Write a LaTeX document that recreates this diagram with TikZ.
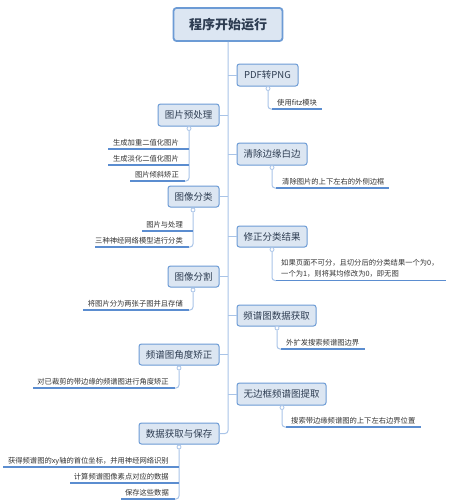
\documentclass[tikz,border=0pt]{standalone}
\usepackage{fontspec}
\setmainfont{Noto Sans CJK SC}
\definecolor{boxfill}{HTML}{DCE6F2}
\definecolor{boxdraw}{HTML}{6C9BD5}
\definecolor{linec}{HTML}{A9C4E8}
\definecolor{ulc}{HTML}{5B8DD0}
\definecolor{txt}{HTML}{2E3D52}
\definecolor{ctxt}{HTML}{333333}
\tikzset{
  topic/.style={draw=boxdraw, fill=boxfill, rounded corners=2.5pt, line width=1pt,
    font=\fontsize{9.5}{11}\selectfont, text=txt, inner sep=0pt, minimum height=22pt},
  roottopic/.style={topic, line width=1.8pt, font=\fontsize{13}{15}\selectfont\bfseries,
    minimum height=33pt, rounded corners=3pt},
  conn/.style={draw=linec, line width=1pt, rounded corners=3pt},
  ul/.style={draw=ulc, line width=1.3pt},
  dot/.style={circle, draw=linec, fill=white, line width=0.8pt, inner sep=0pt, minimum size=4pt},
  leaf/.style={font=\fontsize{7.3}{9}\selectfont, text=ctxt, inner sep=0pt},
  leafR/.style={leaf, anchor=base west},
  leafL/.style={leaf, anchor=base east}
}
\begin{document}
\begin{tikzpicture}[x=1pt,y=-1pt]
\fill[white] (0,0) rectangle (448,504);
\useasboundingbox (0,0) rectangle (448,504);

% root
\node[roottopic, minimum width=109pt] (root) at (228,24.5) {程序开始运行};
\coordinate (tend) at (228,433.5);

% right topics
\node[topic, minimum width=61pt] (pdf) at (267.5,75) {PDF转PNG};
\node[topic, minimum width=70pt] (qc) at (272,154) {清除边缘白边};
\node[topic, minimum width=70pt, minimum height=21pt] (xz) at (272,236.5) {修正分类结果};
\node[topic, minimum width=79pt, minimum height=21pt] (pp) at (276.5,315.5) {频谱图数据获取};
\node[topic, minimum width=89pt] (wb) at (281.5,394) {无边框频谱图提取};

% left topics
\node[topic, minimum width=61pt] (yc) at (188.5,115) {图片预处理};
\node[topic, minimum width=51pt, minimum height=21pt] (fl) at (193.5,196.5) {图像分类};
\node[topic, minimum width=51pt, minimum height=21pt] (fg) at (193.5,276.5) {图像分割};
\node[topic, minimum width=80pt, minimum height=21pt] (jd) at (179,354.5) {频谱图角度矫正};
\node[topic, minimum width=80pt, minimum height=21pt] (sj) at (179,433.5) {数据获取与保存};

% trunk
\draw[conn] (root.south) |- (sj.east);
\foreach \n in {pdf,qc,xz,pp,wb} {
  \draw[conn, rounded corners=0pt] (\n.west -| root.south) -- (\n.west);
}
\foreach \n in {yc,fl,fg,jd} {
  \draw[conn, rounded corners=0pt] (\n.east) -- (\n.east -| root.south);
}

% ---------- right children ----------
% PDF转PNG
\node[dot] (c1) at (268,88.5) {};
\node[leafR] (t1) at (277,105.5) {使用fitz模块};
\draw[conn] (c1.south) |- (272,109);
\draw[ul] (272,109) -- (322,109);

% 清除边缘白边
\node[dot] (c2) at (272,167.5) {};
\node[leafR] (t2) at (282,184.5) {清除图片的上下左右的外侧边框};
\draw[conn] (c2.south) |- (276,188);
\draw[ul] (276,188) -- (389,188);

% 修正分类结果
\node[dot] (c3) at (272,249.5) {};
\node[leafR] (t3a) at (281,265.8) {如果页面不可分，且切分后的分类结果一个为0，};
\node[leafR] (t3b) at (281,276.5) {一个为1，则将其均修改为0，即无图};
\draw[conn] (c3.south) |- (276,280.5);
\draw[ul] (276,280.5) -- (446,280.5);

% 频谱图数据获取
\node[dot] (c4) at (277,328) {};
\node[leafR] (t4) at (286,345.5) {外扩发搜索频谱图边界};
\draw[conn] (c4.south) |- (281,349);
\draw[ul] (281,349) -- (365,349);

% 无边框频谱图提取
\node[dot] (c5) at (282,407.5) {};
\node[leafR] (t5) at (291,423.5) {搜索带边缘频谱图的上下左右边界位置};
\draw[conn] (c5.south) |- (286,427);
\draw[ul] (286,427) -- (421,427);

% ---------- left children ----------
% 图片预处理
\node[dot] (d1) at (189,128.5) {};
\node[leafL] (s1a) at (179,145.3) {生成加重二值化图片};
\node[leafL] (s1b) at (179,161.3) {生成淡化二值化图片};
\node[leafL] (s1c) at (179,177.3) {图片倾斜矫正};
\draw[conn] (d1.south) |- (185,181);
\draw[ul] (108,149) -- (189,149);
\draw[ul] (108,165) -- (189,165);
\draw[ul] (130,181) -- (185,181);

% 图像分类
\node[dot] (d2) at (193,210) {};
\node[leafL] (s2a) at (183,227.3) {图片与处理};
\node[leafL] (s2b) at (183,243.3) {三种神经网络模型进行分类};
\draw[conn] (d2.south) |- (189,247);
\draw[ul] (142,231) -- (193,231);
\draw[ul] (95,247) -- (189,247);

% 图像分割
\node[dot] (d3) at (193,290) {};
\node[leafL] (s3) at (183,306.3) {将图片分为两张子图并且存储};
\draw[conn] (d3.south) |- (189,310);
\draw[ul] (83,310) -- (189,310);

% 频谱图角度矫正
\node[dot] (d4) at (179,368) {};
\node[leafL] (s4) at (169,384.3) {对已裁剪的带边缘的频谱图进行角度矫正};
\draw[conn] (d4.south) |- (175,388);
\draw[ul] (33,388) -- (175,388);

% 数据获取与保存
\node[dot] (d5) at (179,447) {};
\node[leafL] (s5a) at (169,463.5) {获得频谱图的xy轴的首位坐标，并用神经网络识别};
\node[leafL] (s5b) at (169,479.5) {计算频谱图像素点对应的数据};
\node[leafL] (s5c) at (169,495.5) {保存这些数据};
\draw[conn] (d5.south) |- (175,499);
\draw[ul] (3,467) -- (179,467);
\draw[ul] (70,483) -- (179,483);
\draw[ul] (121,499) -- (175,499);
\end{tikzpicture}
\end{document}
